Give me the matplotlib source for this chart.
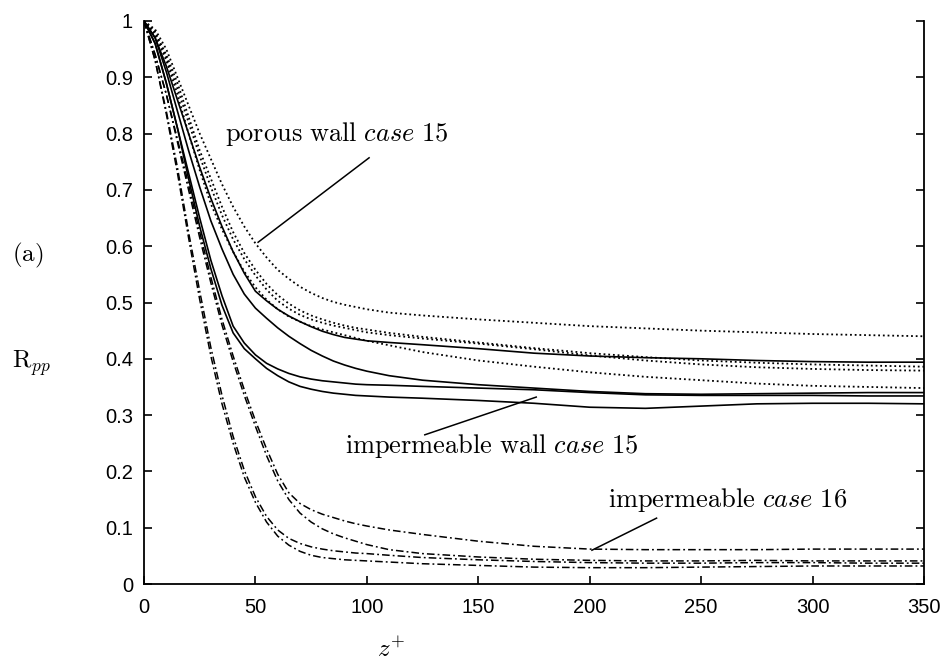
import matplotlib
matplotlib.use("Agg")
import matplotlib.pyplot as plt

plt.rcParams["font.family"] = ["Liberation Sans", "DejaVu Sans"]
plt.rcParams["mathtext.fontset"] = "cm"

z = [0, 5, 10, 15, 20, 25, 30, 35, 40, 45, 50, 55, 60, 65, 70, 75, 80, 85, 90, 95, 100,
     110, 125, 150, 175, 200, 225, 250, 275, 300, 325, 350]

# porous wall, case 15 (dotted)
porous_1 = [1, .985, .95, .90, .85, .80, .755, .71, .67, .635, .605, .58, .558, .542, .528, .517,
            .508, .501, .496, .492, .488, .482, .477, .47, .464, .458, .454, .45, .447, .444, .442, .44]
porous_2 = [1, .98, .94, .89, .83, .77, .72, .67, .625, .588, .558, .533, .513, .498, .486, .477,
            .47, .464, .459, .455, .452, .446, .439, .429, .419, .41, .403, .397, .393, .39, .388, .386]
porous_3 = [1, .98, .935, .88, .82, .76, .705, .655, .612, .577, .548, .523, .503, .489, .478, .47,
            .464, .459, .455, .451, .447, .442, .436, .427, .417, .406, .397, .39, .385, .382, .38, .379]
porous_4 = [1, .975, .93, .87, .80, .735, .675, .63, .59, .555, .527, .505, .488, .475, .466, .458,
            .452, .447, .442, .437, .432, .424, .412, .397, .386, .376, .368, .362, .356, .352, .35, .348]

# impermeable wall, case 15 (solid)
imp15_1 = [1, .97, .92, .86, .80, .74, .685, .635, .59, .552, .52, .503, .488, .476, .466, .457,
           .449, .443, .438, .435, .432, .429, .425, .418, .41, .405, .402, .40, .397, .395, .394, .394]
imp15_2 = [1, .97, .91, .84, .77, .705, .645, .595, .55, .515, .49, .472, .455, .44, .427, .415,
           .405, .396, .389, .383, .378, .37, .362, .354, .348, .342, .338, .337, .338, .339, .34, .34]
imp15_3 = [1, .96, .89, .81, .73, .65, .575, .512, .458, .428, .407, .392, .382, .374, .368, .364,
           .361, .359, .357, .355, .354, .353, .351, .348, .345, .34, .336, .335, .335, .335, .334, .334]
imp15_4 = [1, .96, .89, .81, .72, .635, .56, .495, .446, .418, .40, .383, .37, .359, .351, .346,
           .342, .339, .337, .335, .334, .332, .33, .326, .321, .314, .312, .316, .32, .321, .321, .32]

# impermeable, case 16 (dash-dot)
imp16_1 = [1, .94, .87, .79, .71, .625, .545, .47, .405, .345, .29, .24, .195, .162, .143, .132,
           .124, .118, .112, .107, .103, .096, .088, .076, .067, .062, .061, .061, .061, .062, .062, .062]
imp16_2 = [1, .94, .87, .785, .70, .615, .535, .46, .395, .335, .28, .228, .183, .15, .126, .11,
           .098, .089, .082, .076, .07, .061, .054, .048, .044, .042, .041, .041, .042, .041, .041, .041]
imp16_3 = [1, .93, .84, .74, .625, .52, .42, .335, .262, .202, .155, .12, .096, .081, .072, .066,
           .062, .059, .057, .055, .054, .051, .047, .043, .04, .038, .037, .037, .038, .038, .037, .037]
imp16_4 = [1, .93, .835, .73, .615, .505, .405, .32, .25, .19, .145, .11, .085, .069, .058, .051,
           .047, .045, .043, .042, .041, .039, .036, .033, .03, .029, .029, .03, .031, .032, .032, .032]

xticks = [0, 50, 100, 150, 200, 250, 300, 350]
yticks = [0, 0.1, 0.2, 0.3, 0.4, 0.5, 0.6, 0.7, 0.8, 0.9, 1]

fig = plt.figure(figsize=(9.47, 6.65), dpi=100)
ax = fig.add_axes([144 / 947, 1 - 584 / 665, 780 / 947, 563 / 665])

dotted = (0, (1.0, 1.6))
dashdot = (0, (5, 2, 1.2, 2))
for y in [porous_1, porous_2, porous_3, porous_4]:
    ax.plot(z, y, color="black", lw=1.3, linestyle=dotted)
for y in [imp15_1, imp15_2, imp15_3, imp15_4]:
    ax.plot(z, y, color="black", lw=1.2, linestyle="-")
for y in [imp16_1, imp16_2, imp16_3, imp16_4]:
    ax.plot(z, y, color="black", lw=1.1, linestyle=dashdot)

# leader lines
ax.plot([101, 51.2], [0.757, 0.607], color="black", lw=1.1)
ax.plot([126, 176], [0.265, 0.332], color="black", lw=1.1)
ax.plot([230, 201], [0.117, 0.060], color="black", lw=1.1)

ax.text(36.3, 0.787, r"$\mathrm{porous\ wall}\ \mathit{case\ 15}$", fontsize=19, va="baseline")
ax.text(90.2, 0.233, r"$\mathrm{impermeable\ wall}\ \mathit{case\ 15}$", fontsize=19, va="baseline")
ax.text(208.2, 0.137, r"$\mathrm{impermeable}\ \mathit{case\ 16}$", fontsize=19, va="baseline")

fig.text(12 / 947, 1 - 255 / 665, r"$\mathrm{(a)}$", fontsize=18, va="center", ha="left")
fig.text(12 / 947, 1 - 363 / 665, r"$\mathrm{R}_{pp}$", fontsize=18, va="center", ha="left")
fig.text(377 / 947, 1 - 650 / 665, r"$z^{+}$", fontsize=18, va="center", ha="left")

ax.set_xlim(0, 350)
ax.set_ylim(0, 1)
ax.set_xticks(xticks)
ax.set_yticks(yticks)
ax.set_xticklabels([str(v) for v in xticks])
ax.set_yticklabels(["%g" % v for v in yticks])
ax.tick_params(axis="both", direction="in", length=6, width=1.2, labelsize=14.5, colors="black")
ax.tick_params(axis="x", pad=10)
ax.tick_params(axis="y", pad=8, right=True)
ax.spines["top"].set_visible(False)
for s in ["left", "right", "bottom"]:
    ax.spines[s].set_linewidth(1.3)

fig.savefig("out.png", dpi=100)
